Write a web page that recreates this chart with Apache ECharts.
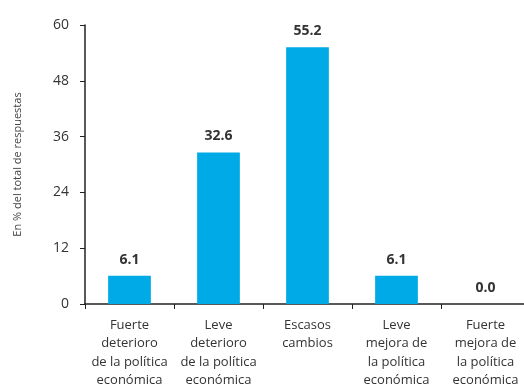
<!DOCTYPE html>
<html><head><meta charset="utf-8">
<script src="https://cdn.jsdelivr.net/npm/echarts@6/dist/echarts.min.js"></script>
<style>html,body{margin:0;padding:0;background:#fff}#c{width:524px;height:385px}</style>
</head><body><div id="c"></div>
<script>
var categories = ["Fuerte\ndeterioro\nde la política\neconómica", "Leve\ndeterioro\nde la política\neconómica", "Escasos\ncambios", "Leve\nmejora de\nla política\neconómica", "Fuerte\nmejora de\nla política\neconómica"];
var values = [6.1, 32.6, 55.2, 6.1, 0.0];
var yTicks = [0, 12, 24, 36, 48, 60];
var yName = "En % del total de respuestas";

var chart = echarts.init(document.getElementById('c'));
chart.setOption({
  animation: false,
  textStyle: {fontFamily: 'Open Sans'},
  grid: {left: 85, right: -6, top: 25, bottom: 81, containLabel: false, outerBoundsMode: 'none'},
  xAxis: {
    type: 'category', data: categories,
    axisLine: {lineStyle: {color: '#222', width: 1.5}},
    axisTick: {show: true, length: 5, lineStyle: {color: '#222'}},
    axisLabel: {color: '#333', fontSize: 13, lineHeight: 18.5, margin: 12, interval: 0}
  },
  yAxis: {
    type: 'value', min: 0, max: 60, interval: 12,
    name: yName, nameLocation: 'middle', nameGap: 62, nameRotate: 90,
    nameTextStyle: {color: '#444', fontSize: 11},
    splitLine: {show: false},
    axisLine: {show: true, lineStyle: {color: '#222', width: 1.5}},
    axisTick: {show: true, length: 5, lineStyle: {color: '#222'}},
    axisLabel: {color: '#333', fontSize: 14, margin: 16,
      formatter: function (v) { return yTicks.indexOf(v) >= 0 ? String(v) : ''; }}
  },
  series: [{
    type: 'bar', data: values, barWidth: '48%',
    itemStyle: {color: '#00AAE6'},
    label: {show: true, position: 'top', distance: 9, color: '#333', fontSize: 14, fontWeight: 'bold',
      formatter: function (p) { return p.value.toFixed(1); }}
  }]
});
</script></body></html>
